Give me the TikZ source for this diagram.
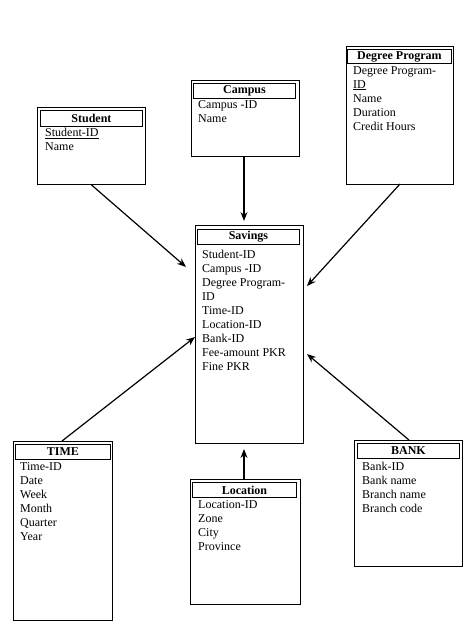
\documentclass[tikz,border=0pt]{standalone}
\usepackage{fontspec}
\setmainfont{Liberation Serif}
\usetikzlibrary{arrows.meta}
\begin{document}
\begin{tikzpicture}[x=1pt,y=-1pt,
  entity/.style={draw,line width=0.9pt,anchor=north west,inner sep=0pt},
  header/.style={draw,line width=0.9pt,anchor=north west,inner sep=0pt,font=\bfseries\fontsize{12}{14}\selectfont},
  attrs/.style={anchor=north west,inner sep=0pt,align=left,font=\fontsize{12}{14}\selectfont},
  arr/.style={line width=1.2pt,-{Stealth[length=9pt,width=7pt]}}]
\useasboundingbox (0,0) rectangle (467,642);
% Student
\node[entity,minimum width=108pt,minimum height=77pt] (student) at (37,107) {};
\node[header,minimum width=102pt,minimum height=16pt] (studenth) at (40,110) {Student};
\node[attrs] (studenta) at (45,128) {\underline{Student-ID}\\Name};
% Campus
\node[entity,minimum width=108pt,minimum height=76pt] (campus) at (191,80) {};
\node[header,minimum width=102pt,minimum height=15pt] (campush) at (193,83) {Campus};
\node[attrs] (campusa) at (198,100) {Campus -ID\\Name};
% Degree Program
\node[entity,minimum width=107pt,minimum height=138pt] (degree) at (346,46) {};
\node[header,minimum width=104pt,minimum height=14pt] (degreeh) at (347,49) {Degree Program};
\node[attrs] (degreea) at (353,66) {Degree Program-\\\underline{ID}\\Name\\Duration\\Credit Hours};
% Savings
\node[entity,minimum width=108pt,minimum height=218pt] (savings) at (195,225) {};
\node[header,minimum width=102pt,minimum height=15pt] (savingsh) at (197,229) {Savings};
\node[attrs] (savingsa) at (202,250) {Student-ID\\Campus -ID\\Degree Program-\\ID\\Time-ID\\Location-ID\\Bank-ID\\Fee-amount PKR\\Fine PKR};
% TIME
\node[entity,minimum width=99pt,minimum height=179pt] (time) at (13,441) {};
\node[header,minimum width=95pt,minimum height=15pt] (timeh) at (15,444) {TIME};
\node[attrs] (timea) at (20,462) {Time-ID\\Date\\Week\\Month\\Quarter\\Year};
% Location
\node[entity,minimum width=110pt,minimum height=125pt] (location) at (190,479) {};
\node[header,minimum width=104pt,minimum height=15pt] (locationh) at (192,482) {Location};
\node[attrs] (locationa) at (198,500) {Location-ID\\Zone\\City\\Province};
% BANK
\node[entity,minimum width=108pt,minimum height=126pt] (bank) at (354,440) {};
\node[header,minimum width=102pt,minimum height=15pt] (bankh) at (357,443) {BANK};
\node[attrs] (banka) at (362,462) {Bank-ID\\Bank name\\Branch name\\Branch code};
% arrow end points
\coordinate (tS) at (186,267);
\coordinate (tC) at (244,221);
\coordinate (tD) at (307,286);
\coordinate (tT) at (195,337);
\coordinate (tL) at (244,449);
\coordinate (tB) at (307,354);
\coordinate (sD) at (400,184);
\coordinate (sT) at (62,441);
\coordinate (sB) at (409,440);
\draw[arr] (student.south) -- (tS);
\draw[arr] (campus.south -| tC) -- (tC);
\draw[arr] (sD) -- (tD);
\draw[arr] (sT) -- (tT);
\draw[arr] (location.north -| tL) -- (tL);
\draw[arr] (sB) -- (tB);
\end{tikzpicture}
\end{document}
